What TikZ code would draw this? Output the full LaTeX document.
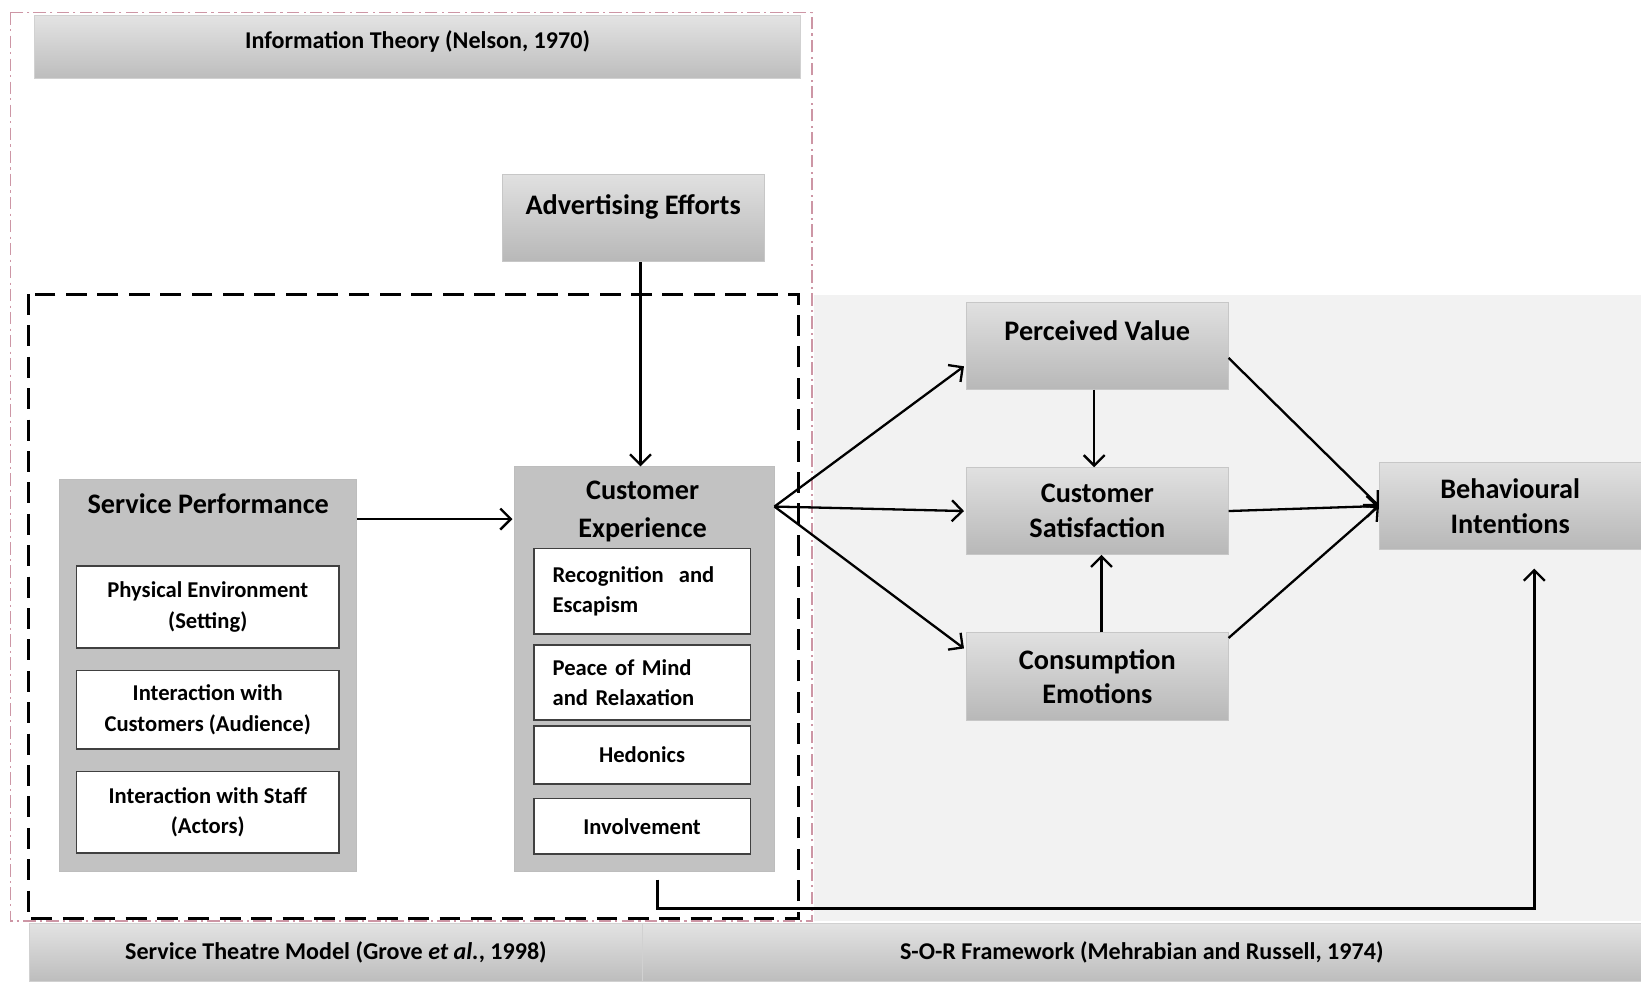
\documentclass[tikz,border=0pt]{standalone}
\usepackage{fontspec}
\setmainfont{Carlito}
\usepackage{tikz}
\usetikzlibrary{arrows,arrows.meta,shapes}
\usetikzlibrary{positioning,fit}
\definecolor{pinkline}{RGB}{205,150,165}
\tikzstyle{block} = [rectangle, draw=black!22, top color=black!12, bottom color=black!28,
    align=center, font=\fontsize{13.5}{16.5}\selectfont\bfseries,
    minimum width=125pt, minimum height=41.5pt]
\tikzstyle{panel} = [rectangle, draw=black!26, fill=black!24]
\tikzstyle{item} = [rectangle, draw=black!75, line width=0.8pt, fill=white,
    font=\fontsize{10.8}{14.5}\selectfont\bfseries, minimum width=103.5pt, align=center]
\tikzstyle{title} = [font=\fontsize{13.5}{18}\selectfont\bfseries, align=center]
\tikzstyle{banner} = [rectangle, draw=black!18, top color=black!11, bottom color=black!26,
    font=\fontsize{11.5}{14}\selectfont\bfseries, minimum height=28pt]
\tikzstyle{link} = [-{Straight Barb[length=5pt,width=10pt,line width=1.1pt]},
    line width=1.1pt, black]

\begin{document}
\begin{tikzpicture}[x=0.5pt, y=-0.5pt]
    \useasboundingbox (0,0) rectangle (1568,938);
    % Frames
    \fill [black!5] (778,282) rectangle (1568,880);
    \draw [pinkline, line width=0.8pt, dash pattern=on 6pt off 2pt on 1pt off 2pt]
        (10,12) rectangle (776,880);
    \draw [black, line width=1.4pt, dash pattern=on 10pt off 5pt]
        (27,281) rectangle (763,878);
    % Place nodes
    \node [banner, minimum width=366pt, minimum height=30pt, text height=8.5pt, text depth=7.5pt]
        (info) at (399,45) {Information Theory (Nelson, 1970)};
    \node [block, text height=10pt, text depth=13.8pt] (adv) at (605,208.5)
        {Advertising Efforts};
    \node [panel, minimum width=142pt, minimum height=187.5pt] (SP) at (199,645.5) {};
    \node [title] (sptitle) at (199,481) {Service Performance};
    \node [item, minimum width=125.5pt, minimum height=39pt] (setting) at (198.5,580)
        {Physical Environment\\(Setting)};
    \node [item, minimum width=125.5pt, minimum height=37.5pt, below=10pt of setting]
        (audience) {Interaction with\\Customers (Audience)};
    \node [item, minimum width=125.5pt, minimum height=39pt, below=10pt of audience]
        (actors) {Interaction with Staff\\(Actors)};
    \node [panel, minimum width=124pt, minimum height=193.5pt] (CE) at (616,639.5) {};
    \node [title] (cetitle) at (614,489) {Customer\\Experience};
    \node [item, minimum height=41pt, text width=85.5pt, inner xsep=9pt, align=left]
        (escapism) at (613.5,565) {Recognition\ \ and\\Escapism};
    \node [item, minimum height=36pt, text width=85.5pt, inner xsep=9pt, align=left]
        (relax) at (613.5,652) {Peace of Mind\\and Relaxation};
    \node [item, minimum height=27.5pt] (hedonics) at (613.5,721.5) {Hedonics};
    \node [item, minimum height=26.5pt] (involve) at (613.5,789.5) {Involvement};
    \node [block, text height=10pt, text depth=14.8pt] (PV) at (1048.5,330.5)
        {Perceived Value};
    \node [block, below=37pt of PV] (CS) {Customer\\Satisfaction};
    \node [block, below=37pt of CS, minimum height=42pt] (Emo) {Consumption\\Emotions};
    \node [block] (BI) at (1443,483.5) {Behavioural\\Intentions};
    \node [banner, minimum width=293pt] (stm) at (321,910)
        {Service Theatre Model (Grove \textit{et al.}, 1998)};
    \node [banner, minimum width=477pt] (sor) at (1091,910)
        {S-O-R Framework (Mehrabian and Russell, 1974)};
    % Draw edges
    \coordinate (spout) at (341,496);
    \coordinate (ceout) at (740,484);
    \coordinate (back) at (1466,868);
    \draw [link] ([xshift=3.5pt]adv.south) -- ([xshift=3.5pt]adv.south |- CE.north);
    \draw [link] (spout) -- ([xshift=-1pt]spout -| CE.west);
    \draw [link] (ceout) -- ([xshift=-1pt,yshift=-9.75pt]PV.west);
    \draw [link] (ceout) -- ([xshift=-1pt]CS.west);
    \draw [link] (ceout) -- ([xshift=-1pt,yshift=13.5pt]Emo.west);
    \draw [link] ([xshift=-1.5pt]PV.south) -- ([xshift=-1.5pt]CS.north);
    \draw [link] ([xshift=2pt]Emo.north) -- ([xshift=2pt]CS.south);
    \draw [link] ([yshift=-5.75pt]PV.east) -- (BI.west);
    \draw [link] (CS.east) -- (BI.west);
    \draw [link] ([yshift=18.5pt]Emo.east) -- (BI.west);
    \draw [link, line width=1.4pt, shorten >=9pt] ([xshift=6pt,yshift=-3.5pt]CE.south)
        |- (back) -- (back |- BI.south);
\end{tikzpicture}
\end{document}
